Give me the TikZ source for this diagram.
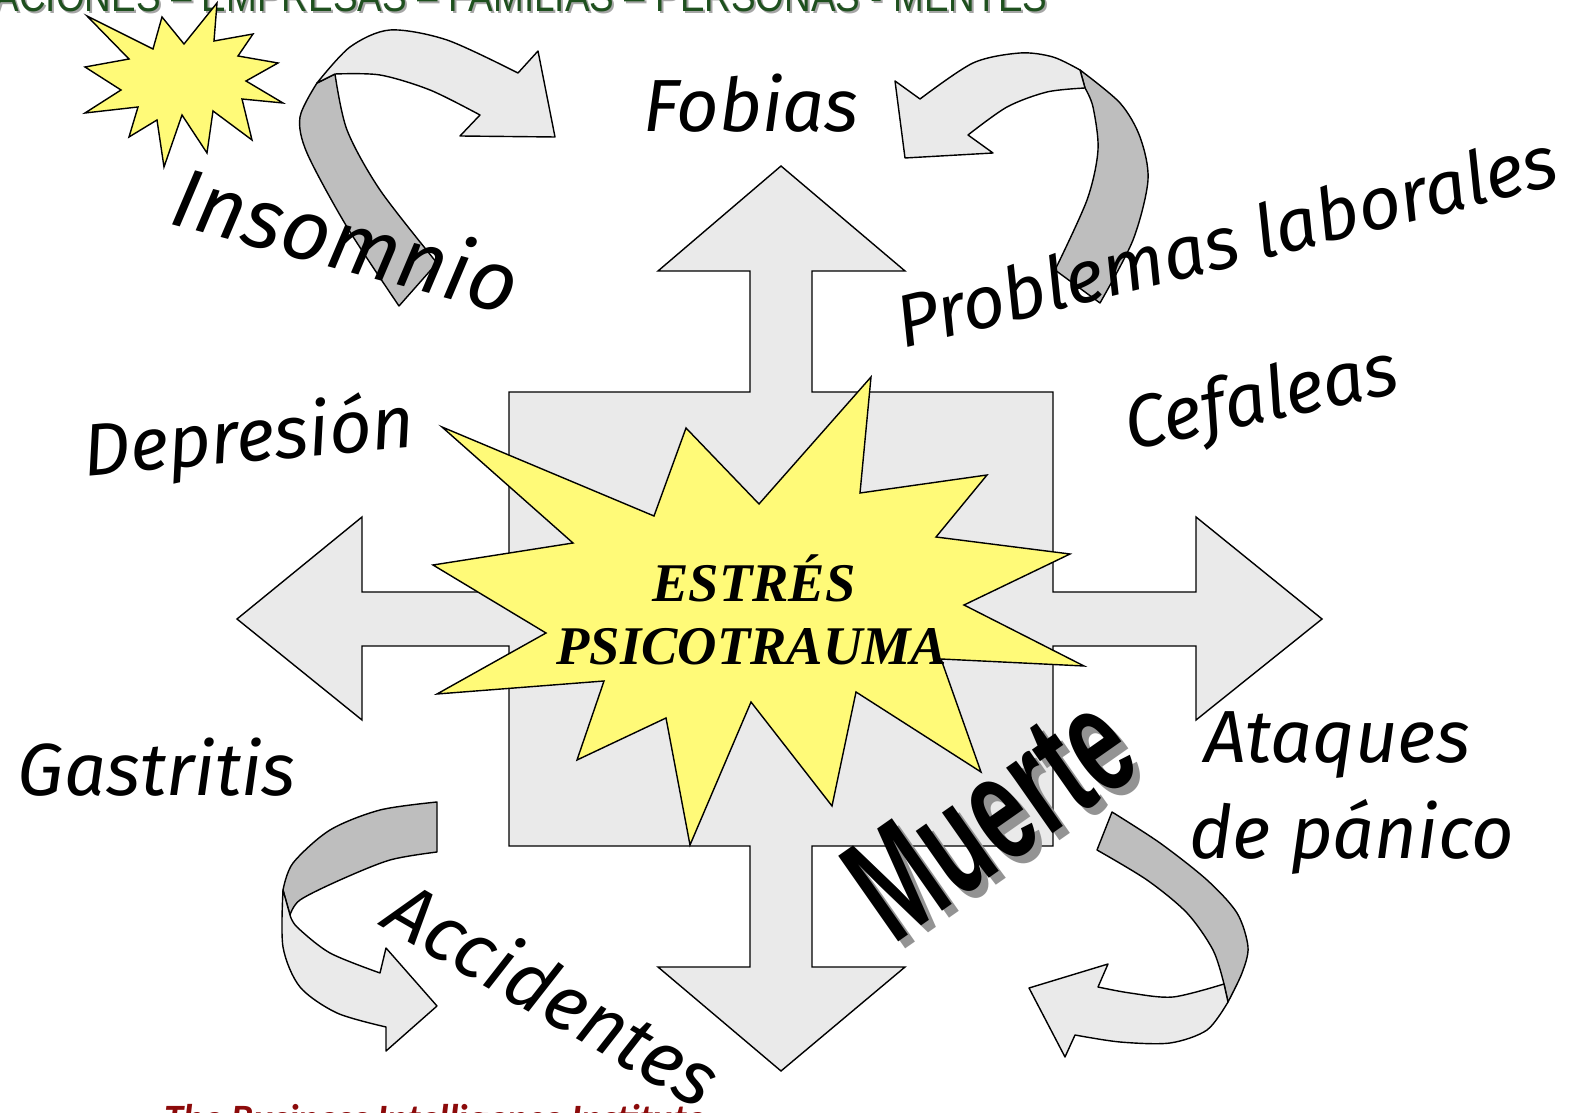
\documentclass[tikz,border=0pt]{standalone}
\usepackage{fontspec}
\usepackage{graphicx}
\usepackage{tikz}
\usetikzlibrary{positioning}
\setmainfont{Liberation Serif}
\newfontfamily\handfont{Fira Sans}
\newfontfamily\sansfont{Liberation Sans}
\newfontfamily\figfont{Carlito}
\definecolor{crossgray}{RGB}{234,234,234}
\definecolor{ribbondark}{RGB}{190,190,190}
\definecolor{staryellow}{RGB}{255,250,120}
\definecolor{topgreen}{RGB}{30,80,30}
\definecolor{figred}{RGB}{140,10,10}
\tikzset{
  symptom/.style={font=\handfont\itshape\fontsize{21}{24}\selectfont, inner sep=0pt},
  ribbonlight/.style={draw, fill=crossgray, line join=round},
  ribbonshade/.style={draw, fill=ribbondark, line join=round},
  burst/.style={draw, fill=staryellow, line join=miter},
  bigword/.style={font=\sansfont\bfseries\fontsize{36}{38}\selectfont, inner sep=0pt, rotate=35},
  banner/.style={anchor=base east, inner sep=0pt, font=\sansfont\fontsize{12.5}{14}\selectfont}
}
\begin{document}
\begin{tikzpicture}[x=0.01cm,y=-0.01cm]
  \useasboundingbox (0,0) rectangle (1573,1113);
  \clip (0,0) rectangle (1573,1113);

  \node (sectorsshadow) [banner, text=gray!70] at (1050,14) {\scalebox{0.84}[1]{ACIONES – EMPRESAS – FAMILIAS – PERSONAS - MENTES}};
  \node (sectors) [banner, text=topgreen] at (1048,12) {\scalebox{0.84}[1]{ACIONES – EMPRESAS – FAMILIAS – PERSONAS - MENTES}};

  \draw[burst] (87,16) -- (153,49) -- (162,17) -- (184,44) -- (217,3) -- (214,41) -- (253,34) -- (238,56)
    -- (278,63) -- (246,81) -- (283,103) -- (242,99) -- (252,140) -- (213,111) -- (207,153) -- (182,115)
    -- (164,167) -- (157,120) -- (129,137) -- (138,107) -- (85,113) -- (121,90) -- (85,67) -- (129,59) -- cycle;

  \draw[ribbonshade] (399,306) -- (437,263) -- plot[smooth] coordinates {(437,263) (380,190) (347,130) (335,74)}
    -- (317,83) -- plot[smooth] coordinates {(317,83) (300,117) (307,153) (347,227) (399,306)} -- cycle;
  \draw[ribbonlight] (317,83) -- plot[smooth] coordinates {(317,83) (350,47) (390,30) (447,40) (518,73)}
    -- (538,51) -- (555,137) -- (460,136) -- (480,115)
    -- plot[smooth] coordinates {(480,115) (430,90) (380,75) (335,74)} -- cycle;

  \draw[ribbonshade] (1055,270) -- (1100,303) -- plot[smooth] coordinates {(1100,303) (1133,240) (1148,180) (1140,137) (1120,103) (1080,70)}
    -- (1085,88) -- plot[smooth] coordinates {(1085,88) (1093,107) (1098,150) (1087,200) (1055,270)} -- cycle;
  \draw[ribbonlight] (1080,70) -- plot[smooth] coordinates {(1080,70) (1053,57) (1020,53) (973,63) (920,99)}
    -- (895,81) -- (905,158) -- (993,153) -- (968,135)
    -- plot[smooth] coordinates {(968,135) (1007,107) (1047,92) (1085,88)} -- cycle;

  \draw[ribbonshade] (437,802) -- (437,852) -- plot[smooth] coordinates {(437,852) (390,860) (340,880) (300,900) (290,915)}
    -- (283,890) -- plot[smooth] coordinates {(283,890) (293,863) (330,830) (380,810) (437,802)} -- cycle;
  \draw[ribbonlight] (283,890) -- plot[smooth] coordinates {(283,890) (283,947) (300,987) (337,1013) (386,1027)}
    -- (386,1051) -- (437,1006) -- (386,948) -- (380,973)
    -- plot[smooth] coordinates {(380,973) (330,953) (297,927) (290,915)} -- cycle;

  \draw[ribbonshade] (1097,850) -- (1112,812) -- plot[smooth] coordinates {(1112,812) (1160,843) (1207,880) (1237,913) (1248,947) (1242,973) (1228,1002)}
    -- (1224,984) -- plot[smooth] coordinates {(1224,984) (1213,950) (1187,913) (1147,880) (1097,850)} -- cycle;
  \draw[ribbonlight] (1224,984) -- plot[smooth] coordinates {(1224,984) (1173,997) (1130,993) (1098,987)}
    -- (1108,964) -- (1029,988) -- (1065,1057) -- (1075,1035)
    -- plot[smooth] coordinates {(1075,1035) (1120,1042) (1170,1043) (1207,1030) (1228,1002)} -- cycle;

  \draw[fill=crossgray] (781,166) -- (905,271) -- (812,271) -- (812,392) -- (1053,392) -- (1053,592)
    -- (1196,592) -- (1196,517) -- (1322,619) -- (1196,720) -- (1196,646) -- (1053,646) -- (1053,846)
    -- (812,846) -- (812,967) -- (905,967) -- (781,1071) -- (658,967) -- (750,967) -- (750,846)
    -- (509,846) -- (509,646) -- (362,646) -- (362,720) -- (237,619) -- (362,517) -- (362,592)
    -- (509,592) -- (509,392) -- (750,392) -- (750,271) -- (658,271) -- cycle;

  \draw[burst] (442,427) -- (654,516) -- (686,428) -- (759,504) -- (871,377) -- (860,493) -- (987,475)
    -- (936,537) -- (1070,554) -- (964,605) -- (1084,666) -- (941,659) -- (981,772) -- (856,692)
    -- (832,806) -- (751,702) -- (690,845) -- (666,718) -- (577,760) -- (604,681) -- (437,694)
    -- (546,633) -- (433,565) -- (573,543) -- cycle;

  \node (estres) [anchor=base, font=\bfseries\itshape\fontsize{15.5}{18}\selectfont] at (754,601) {ESTRÉS};
  \node (psico) [anchor=base, font=\bfseries\itshape\fontsize{15.5}{18}\selectfont] at (752,665) {PSICOTRAUMA};

  \node (fobias) [symptom] at (751,103) {Fobias};
  \node (insomnio) [symptom, font=\handfont\itshape\fontsize{24}{26}\selectfont, rotate=-15] at (347,238) {Insomnio};
  \node (laborales) [symptom, rotate=14] at (1226,240) {Problemas laborales};
  \node (cefaleas) [symptom, rotate=12] at (1262,402) {Cefaleas};
  \node (depresion) [symptom, rotate=5] at (249,440) {Depresión};
  \node (gastritis) [symptom] at (157,767) {Gastritis};
  \node (accidentes) [symptom, font=\handfont\itshape\fontsize{22}{24}\selectfont, rotate=-30] at (554,992) {Accidentes};
  \node (ataques) [symptom] at (1337,745) {Ataques};
  \node (panico) [symptom] at (1352,837) {de pánico};

  \node (muerteshadow) [bigword, text=gray!85] at (997,822) {\scalebox{0.74}[1.2]{Muerte}};
  \node (muerte) [bigword] at (990,815) {\scalebox{0.74}[1.2]{Muerte}};

  \node (credit) [anchor=base west, font=\figfont\bfseries\itshape\fontsize{11}{13}\selectfont, text=figred] at (152,1131) {The Business Intelligence Institute};
\end{tikzpicture}
\end{document}
